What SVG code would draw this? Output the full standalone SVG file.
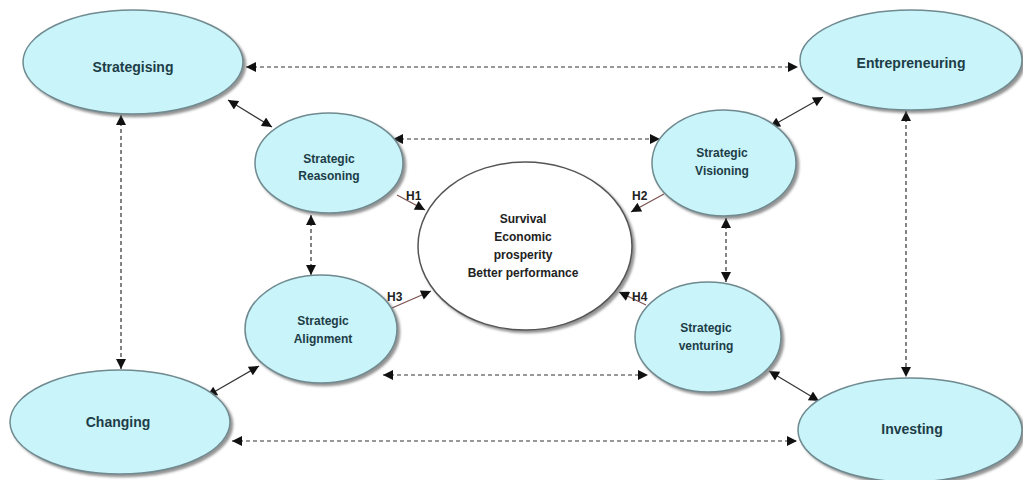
<svg xmlns="http://www.w3.org/2000/svg" width="1023" height="480" viewBox="0 0 1023 480">
<style>
.n{fill:#c9f4f9;stroke:#6f8a90;stroke-width:1.5;filter:url(#sh)}
.c{fill:#ffffff;stroke:#555;stroke-width:1.5;filter:url(#sh)}
.t{font-family:"Liberation Sans",Arial,sans-serif;font-weight:bold;fill:#1d3d47;text-anchor:middle}
.big{font-size:14px}
.sm{font-size:12px}
.ct{font-size:12px;fill:#222}
.h{font-family:"Liberation Sans",Arial,sans-serif;font-weight:bold;font-size:12px;fill:#222}
.d{stroke:#333;stroke-width:1.2;stroke-dasharray:4,3;fill:none;marker-start:url(#a);marker-end:url(#a)}
.s{stroke:#333;stroke-width:1.2;fill:none;marker-start:url(#a);marker-end:url(#a)}
.o{stroke:#7a5050;stroke-width:1.2;fill:none;marker-end:url(#a)}
</style>
<defs>
<filter id="sh" x="-10%" y="-10%" width="125%" height="125%">
<feDropShadow dx="2.5" dy="2.5" stdDeviation="1.2" flood-color="#666" flood-opacity="0.7"/>
</filter>
<marker id="a" viewBox="0 0 10 10" refX="10" refY="5" markerWidth="12" markerHeight="10" markerUnits="userSpaceOnUse" orient="auto-start-reverse">
<path d="M0,0 L10,5 L0,10 Z" fill="#111"/>
</marker>
</defs>
<rect width="1023" height="480" fill="#ffffff"/>
<g id="connectors">
<line class="d" x1="246" y1="67" x2="798" y2="67"/>
<line class="d" x1="121" y1="115" x2="121" y2="369"/>
<line class="d" x1="906" y1="111" x2="906" y2="377"/>
<line class="d" x1="232" y1="441" x2="797" y2="441"/>
<line class="d" x1="393" y1="139" x2="660" y2="139"/>
<line class="d" x1="311" y1="215" x2="311" y2="275"/>
<line class="d" x1="726" y1="218" x2="726" y2="282"/>
<line class="d" x1="383" y1="375" x2="648" y2="375"/>
<line class="s" x1="228" y1="100" x2="272" y2="127"/>
<line class="s" x1="823" y1="97" x2="770" y2="127"/>
<line class="s" x1="259" y1="366" x2="207" y2="396"/>
<line class="s" x1="769" y1="371" x2="819" y2="401"/>
<line class="o" x1="397" y1="195" x2="425" y2="210"/>
<line class="o" x1="664" y1="194" x2="631" y2="212"/>
<line class="o" x1="392" y1="308" x2="431" y2="291"/>
<line class="o" x1="646" y1="305" x2="619" y2="292"/>
</g>
<g id="strategising"><ellipse class="n" cx="133" cy="62" rx="110" ry="52"/><text class="t big" x="133" y="72">Strategising</text></g>
<g id="entrepreneuring"><ellipse class="n" cx="911" cy="60" rx="111" ry="50"/><text class="t big" x="911" y="68">Entrepreneuring</text></g>
<g id="changing"><ellipse class="n" cx="120" cy="422" rx="110" ry="52"/><text class="t big" x="118" y="427">Changing</text></g>
<g id="investing"><ellipse class="n" cx="910" cy="430" rx="112" ry="52"/><text class="t big" x="912" y="434">Investing</text></g>
<g id="reasoning"><ellipse class="n" cx="329" cy="163" rx="74" ry="50"/><text class="t sm" x="329" y="163">Strategic</text><text class="t sm" x="329" y="180">Reasoning</text></g>
<g id="visioning"><ellipse class="n" cx="724" cy="163" rx="72" ry="53"/><text class="t sm" x="722" y="157">Strategic</text><text class="t sm" x="722" y="175">Visioning</text></g>
<g id="alignment"><ellipse class="n" cx="321" cy="329" rx="76" ry="54"/><text class="t sm" x="323" y="325">Strategic</text><text class="t sm" x="323" y="343">Alignment</text></g>
<g id="venturing"><ellipse class="n" cx="708" cy="337" rx="73" ry="55"/><text class="t sm" x="706" y="332">Strategic</text><text class="t sm" x="706" y="350">venturing</text></g>
<g id="outcome"><ellipse class="c" cx="525" cy="246" rx="107" ry="84"/>
<text class="t ct" x="523" y="223">Survival</text>
<text class="t ct" x="523" y="241">Economic</text>
<text class="t ct" x="523" y="259">prosperity</text>
<text class="t ct" x="523" y="277">Better performance</text></g>
<g id="labels">
<text class="h" x="406" y="200">H1</text>
<text class="h" x="632" y="200">H2</text>
<text class="h" x="387" y="301">H3</text>
<text class="h" x="632" y="301">H4</text>
</g>
</svg>
